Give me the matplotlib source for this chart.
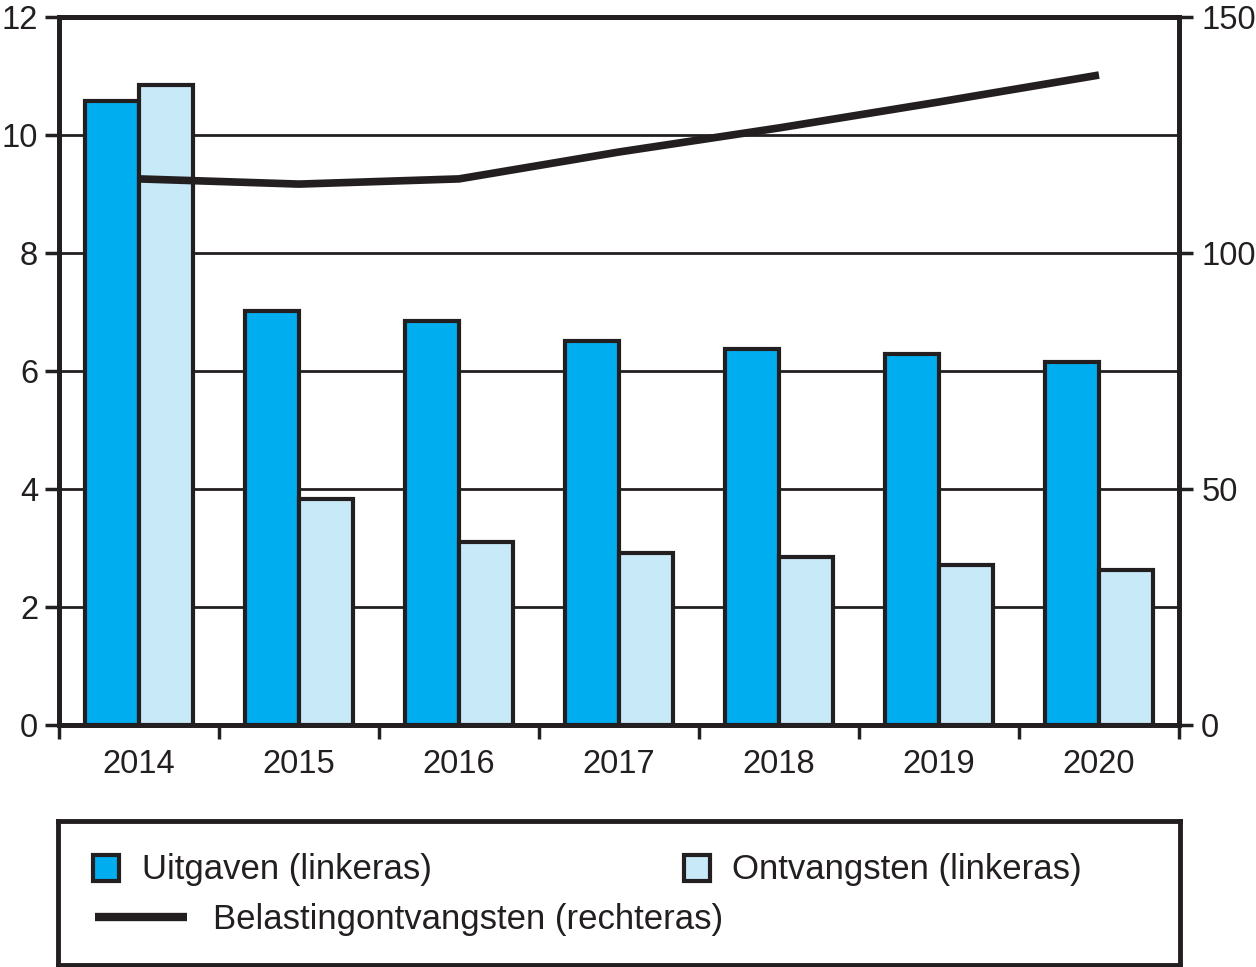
import matplotlib
matplotlib.use("Agg")
import matplotlib.pyplot as plt
import numpy as np
from matplotlib.patches import Rectangle

plt.rcParams['font.family'] = ['Liberation Sans', 'DejaVu Sans']

# Data
years = ['2014', '2015', '2016', '2017', '2018', '2019', '2020']
uitgaven = [10.58, 7.02, 6.85, 6.51, 6.37, 6.29, 6.15]
ontvangsten = [10.85, 3.83, 3.10, 2.92, 2.85, 2.71, 2.63]
belasting = [115.7, 114.6, 115.7, 121.4, 126.5, 132.0, 137.7]

DARK = '#231F20'
BLUE = '#00AEEF'
LIGHT = '#C8E9F8'

fig = plt.figure(figsize=(12.56, 9.67), dpi=100)
ax = fig.add_axes([59 / 1256, 1 - 725 / 967, 1120 / 1256, 708 / 967])

x = np.arange(len(years))
w = 0.34
ax.bar(x - w / 2, uitgaven, w, color=BLUE, edgecolor=DARK, linewidth=3, zorder=3)
ax.bar(x + w / 2, ontvangsten, w, color=LIGHT, edgecolor=DARK, linewidth=3, zorder=3)

ax.set_xlim(-0.5, len(years) - 0.5)
ax.set_ylim(0, 12)
ax.set_yticks(range(0, 13, 2))
ax.yaxis.grid(True, color=DARK, linewidth=2, zorder=0)
ax.set_axisbelow(True)

ax.set_xticks(x)
ax.set_xticklabels(years)
ax.set_xticks(np.arange(-0.5, len(years)), minor=True)
ax.tick_params(axis='x', which='major', length=0, pad=17, labelsize=23.5, colors=DARK)
ax.tick_params(axis='x', which='minor', length=10, width=2.5, direction='out', color=DARK)
ax.tick_params(axis='y', length=10, width=2.5, labelsize=23.5, colors=DARK, pad=5)
for s in ax.spines.values():
    s.set_linewidth(3.5)
    s.set_color(DARK)

# Belastingontvangsten on the right axis
ax2 = ax.twinx()
ax2.set_ylim(0, 150)
ax2.set_yticks([0, 50, 100, 150])
ax2.plot(x, belasting, color=DARK, linewidth=5.5, solid_capstyle='butt', zorder=5)
ax2.tick_params(axis='y', length=10, width=2.5, labelsize=23.5, colors=DARK, pad=6)
for s in ax2.spines.values():
    s.set_linewidth(3.5)
    s.set_color(DARK)

# Legend box
lax = fig.add_axes([58 / 1256, 2 / 967, 1122 / 1256, 144 / 967])
lax.set_xlim(0, 1122)
lax.set_ylim(144, 0)
lax.set_xticks([])
lax.set_yticks([])
for s in lax.spines.values():
    s.set_linewidth(3.5)
    s.set_color(DARK)

lax.add_patch(Rectangle((35, 34), 26, 26, facecolor=BLUE, edgecolor=DARK, linewidth=3))
lax.text(84, 49, 'Uitgaven (linkeras)', fontsize=25, va='center', color=DARK)
lax.add_patch(Rectangle((626, 34), 26, 26, facecolor=LIGHT, edgecolor=DARK, linewidth=3))
lax.text(674, 49, 'Ontvangsten (linkeras)', fontsize=25, va='center', color=DARK)
lax.plot([37, 129], [96, 96], color=DARK, linewidth=6, solid_capstyle='butt')
lax.text(155, 98, 'Belastingontvangsten (rechteras)', fontsize=25, va='center', color=DARK)

fig.savefig('out.png', dpi=100)
